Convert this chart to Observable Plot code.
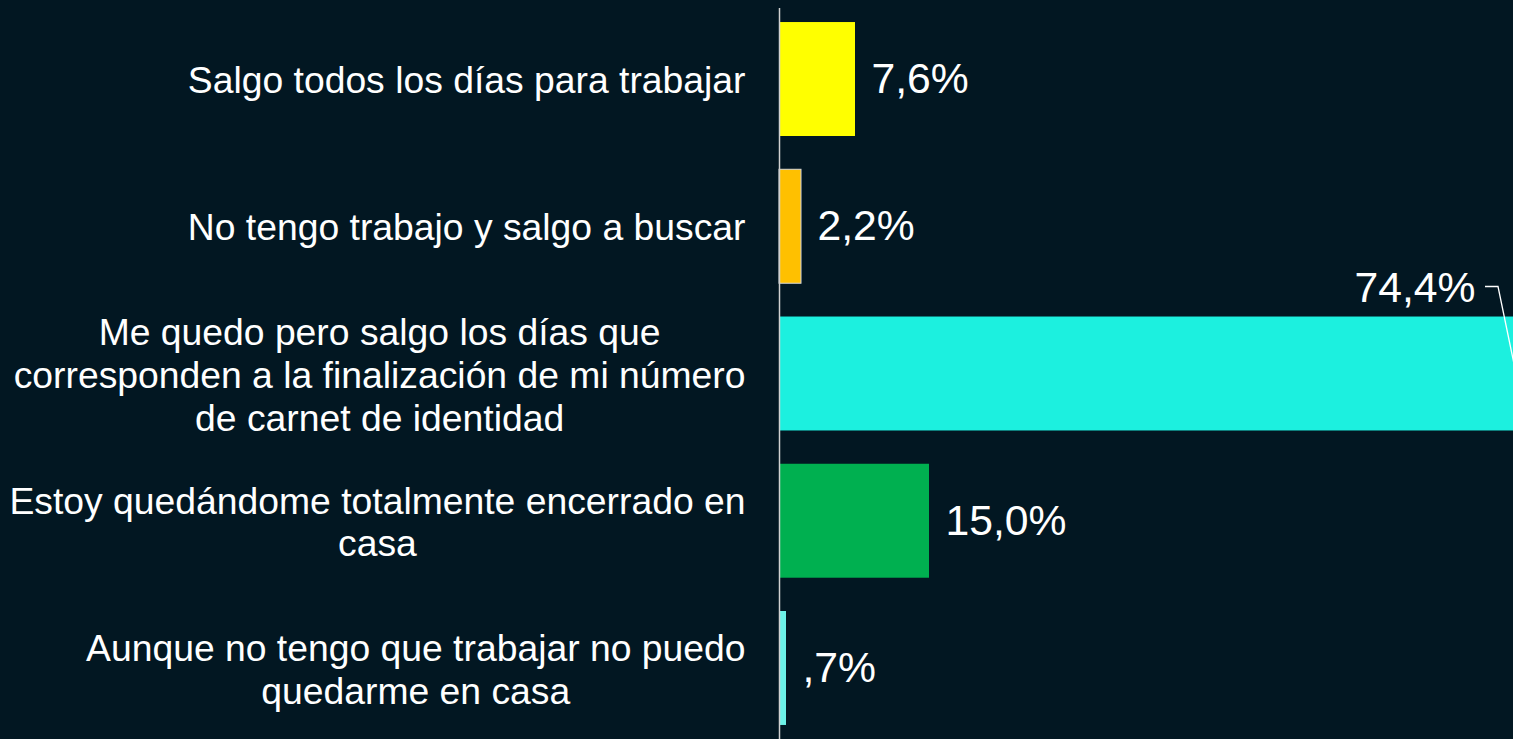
<!DOCTYPE html>
<html><head><meta charset="utf-8">
<script src="https://cdn.jsdelivr.net/npm/d3@7"></script>
<script src="https://cdn.jsdelivr.net/npm/@observablehq/plot@0.6"></script>
<style>
html,body{margin:0;padding:0;background:#021722;overflow:hidden;}
</style></head><body><div id="chart"></div>
<script>
const categories = [
  "Salgo todos los días para trabajar",
  "No tengo trabajo y salgo a buscar",
  "Me quedo pero salgo los días que\ncorresponden a la finalización de mi número\nde carnet de identidad",
  "Estoy quedándome totalmente encerrado en\ncasa",
  "Aunque no tengo que trabajar no puedo\nquedarme en casa"
];
const values = [7.6, 2.2, 74.4, 15.0, 0.7];
const valueLabels = ["7,6%", "2,2%", "74,4%", "15,0%", ",7%"];
const barColors = ["#FFFF00", "#FFC000", "#1CF0DF", "#00B050", "#6CF2E8"];

const data = categories.map((c, i) => ({category: c, value: values[i], label: valueLabels[i]}));
const W = 1513, H = 739;
const fontLabel = 37.3, fontValue = 42.7;
const FONT = "'Liberation Sans', Arial, sans-serif";

const ctx = document.createElement("canvas").getContext("2d");
ctx.font = `${fontLabel}px 'Liberation Sans'`;
const blockW = categories.map(c => d3.max(c.split("\n"), l => ctx.measureText(l).width));

const big = data.filter(d => d.value > 60);
const small = data.filter(d => d.value <= 60);

function leader(index, scales) {
  const g = d3.create("svg:g");
  const bw = scales.y.bandwidth();
  for (const d of big) {
    const x = scales.x(d.value), y = scales.y(d.category) + bw / 2;
    g.append("path")
      .attr("d", `M${x - 38},${y - 87}L${x - 25},${y - 87}L${x - 7},${y}`)
      .attr("fill", "none").attr("stroke", "#ffffff").attr("stroke-width", 1.3);
  }
  return g.node();
}

const plot = Plot.plot({
  width: W, height: H,
  marginTop: 8, marginBottom: 0, marginLeft: 0, marginRight: 0,
  style: {background: "#021722", color: "#ffffff", fontFamily: FONT, overflow: "visible"},
  x: {domain: [0, 73.4], range: [779, 1513], axis: null},
  y: {domain: categories, range: [5.4, 741.6], paddingInner: 0.226, paddingOuter: 0.113, round: false, axis: null},
  color: {domain: categories, range: barColors},
  marks: [
    Plot.barX(data, {x: "value", y: "category", fill: "category"}),
    Plot.barX(data.filter((d, i) => i === 1), {x: "value", y: "category", fill: "none", stroke: "#d9d9d9", strokeWidth: 1}),
    Plot.text(small, {x: "value", y: "category", text: "label", dx: 16, textAnchor: "start", fill: "#ffffff", fontSize: fontValue}),
    Plot.text(big, {x: "value", y: "category", text: "label", dx: -48, dy: -86, textAnchor: "end", fill: "#ffffff", fontSize: fontValue}),
    leader,
    ...data.map((d, i) => Plot.text([d], {
      x: () => 0, y: "category", text: "category",
      textAnchor: "middle", lineAnchor: "middle", lineHeight: 1.15,
      dx: -34 - blockW[i] / 2, fill: "#ffffff", fontSize: fontLabel
    })),
    Plot.ruleX([0], {stroke: "#d0d0d0", strokeWidth: 1.5})
  ]
});
document.getElementById("chart").appendChild(plot);
</script></body></html>
